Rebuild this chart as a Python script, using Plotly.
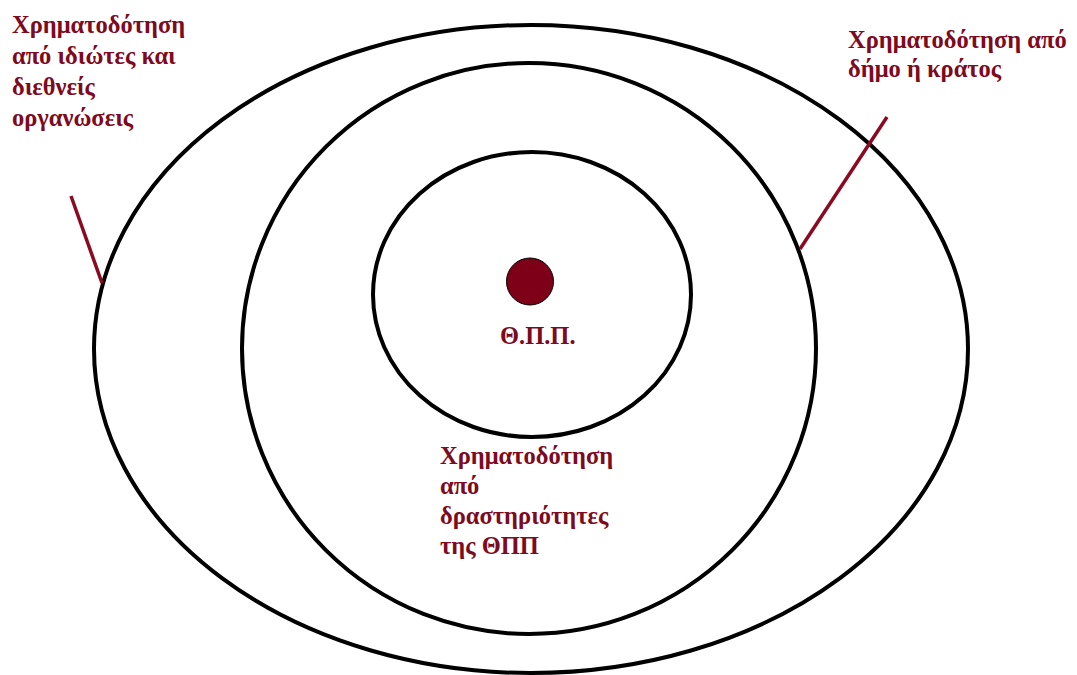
import plotly.graph_objects as go

# Concentric rings: (center x, center y, radius x, radius y) in picture units
ring_names = ["outer", "middle", "inner"]
ring_cx = [531, 529, 532]
ring_cy = [349, 348.5, 294.5]
ring_rx = [437, 287, 159]
ring_ry = [324, 285.5, 142.5]

# Core dot
dot_center = (530, 281.5)
dot_radius = 23.5

# Pointer lines (x0, y0, x1, y1)
pointer_left = (71, 196, 102, 283)
pointer_right = (887, 117, 800, 249)

# Labels: lines of text and their anchor (left x, first baseline y, line step)
label_left = ["Χρηματοδότηση", "από ιδιώτες και", "διεθνείς", "οργανώσεις"]
label_right = ["Χρηματοδότηση από", "δήμο ή κράτος"]
label_bottom = ["Χρηματοδότηση", "από", "δραστηριότητες", "της ΘΠΠ"]
label_core = "Θ.Π.Π."

RED = "#7d0a1e"
FONT = "Liberation Serif"
FS = 24.5

fig = go.Figure()

for cx, cy, rx, ry in zip(ring_cx, ring_cy, ring_rx, ring_ry):
    fig.add_shape(type="circle", xref="x", yref="y",
                  x0=cx - rx, x1=cx + rx, y0=cy - ry, y1=cy + ry,
                  line=dict(color="black", width=4), fillcolor="rgba(0,0,0,0)")

fig.add_shape(type="circle", xref="x", yref="y",
              x0=dot_center[0] - dot_radius, x1=dot_center[0] + dot_radius,
              y0=dot_center[1] - dot_radius, y1=dot_center[1] + dot_radius,
              line=dict(color="black", width=1), fillcolor="#7d0018")

for p in (pointer_left, pointer_right):
    fig.add_shape(type="line", xref="x", yref="y",
                  x0=p[0], y0=p[1], x1=p[2], y1=p[3],
                  line=dict(color="#8a0a22", width=3.5))


def add_lines(lines, x, y0, step):
    for i, t in enumerate(lines):
        fig.add_annotation(x=x, y=y0 + i * step - 0.32 * FS, text="<b>" + t + "</b>",
                           showarrow=False, xanchor="left", yanchor="middle",
                           font=dict(family=FONT, size=FS, color=RED, weight="bold"))


add_lines(label_left, 10, 32, 31)
add_lines(label_right, 846, 47, 29)
add_lines(label_bottom, 438, 463, 30)

fig.add_annotation(x=538, y=343 - 0.32 * FS, text="<b>" + label_core + "</b>",
                   showarrow=False, xanchor="center", yanchor="middle",
                   font=dict(family=FONT, size=FS, color=RED, weight="bold"))

fig.update_xaxes(range=[0, 1077], visible=False)
fig.update_yaxes(range=[675, 0], visible=False)
fig.update_layout(width=1077, height=675, margin=dict(l=0, r=0, t=0, b=0),
                  plot_bgcolor="white", paper_bgcolor="white", showlegend=False)

fig.write_html("out.html", config={"displayModeBar": False},
               post_script="document.body.style.margin='0';document.body.style.overflow='hidden';")
